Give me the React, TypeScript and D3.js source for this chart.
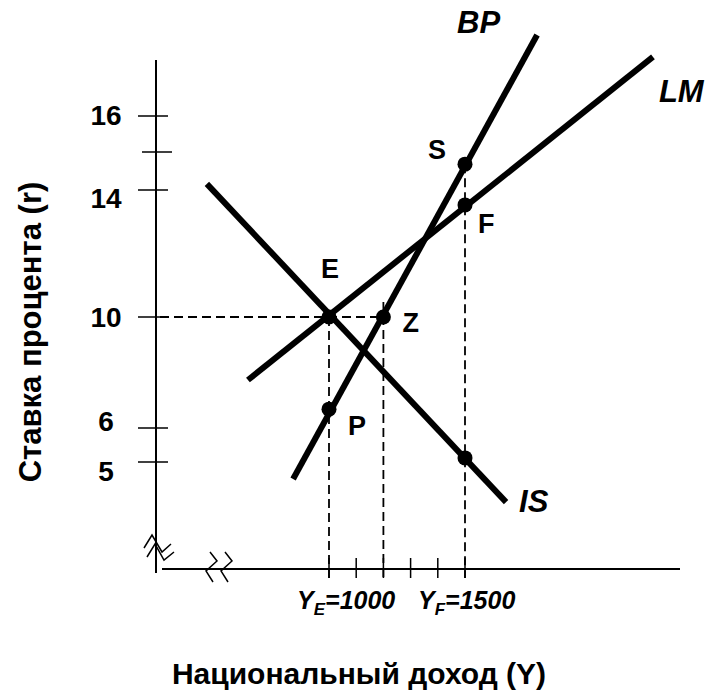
import { useEffect, useRef } from "react";
import * as d3 from "d3";

// national income ticks (Y) and interest rate ticks (r)
const xTicks = [1000, 1100, 1200, 1300, 1400, 1500];
const yTicks = [5, 6, 10, 14, 15, 16];
const yTickLabels = ["5", "6", "10", "14", "", "16"];

// curves: two end points each, [Y, r]
const isCurve: [number, number][] = [[551, 14.16], [1651, 3.82]];
const lmCurve: [number, number][] = [[702, 7.73], [2191, 17.64]];
const bpCurve: [number, number][] = [[868, 4.5], [1765, 18.25]];
const curveNames = ["IS", "LM", "BP"];

// marked points
const pointNames = ["E", "Z", "P", "S", "F", ""];
const pointY = [1000, 1200, 1000, 1500, 1500, 1500];
const pointR = [10, 10, 6.68, 14.68, 13.53, 5.12];

// x axis labels
const xLabelSub = ["E", "F"];
const xLabelValue = [1000, 1500];

const W = 720;
const H = 693;
const FONT = "'Liberation Sans', Arial, sans-serif";

export default function App() {
  const ref = useRef<SVGSVGElement | null>(null);

  useEffect(() => {
    const svg = d3.select(ref.current);
    svg.selectAll("*").remove();

    const x = d3.scaleLinear().domain([1000, 1500]).range([329, 465]);
    // schematic axis: uneven spacing between ticks
    const y = d3
      .scaleLinear()
      .domain([5, 6, 10, 14, 15, 16])
      .range([462, 428, 317, 190, 152, 116]);

    const axisX = 156; // vertical axis position
    const axisY = 569; // horizontal axis position

    const g = svg.append("g");

    // axes
    g.append("line")
      .attr("x1", axisX).attr("x2", axisX)
      .attr("y1", 60).attr("y2", 573)
      .attr("stroke", "#000").attr("stroke-width", 2);
    g.append("line")
      .attr("x1", 162).attr("x2", 680)
      .attr("y1", axisY).attr("y2", axisY)
      .attr("stroke", "#000").attr("stroke-width", 2);

    // y ticks
    yTicks.forEach((v) => {
      const off = v === 15 ? 2 : -2;
      g.append("line")
        .attr("x1", axisX - 16 + off).attr("x2", axisX + 14 + off)
        .attr("y1", y(v)).attr("y2", y(v))
        .attr("stroke", "#000").attr("stroke-width", 1.5);
    });
    const yLabelDy: Record<string, number> = { "5": 19, "6": 3, "10": 10, "14": 18, "16": 9 };
    yTicks.forEach((v, i) => {
      if (!yTickLabels[i]) return;
      g.append("text")
        .attr("x", 106)
        .attr("y", y(v) + yLabelDy[yTickLabels[i]])
        .attr("text-anchor", "middle")
        .attr("font-family", FONT)
        .attr("font-weight", "bold")
        .attr("font-size", 28)
        .text(yTickLabels[i]);
    });

    // x ticks
    xTicks.forEach((v) => {
      g.append("line")
        .attr("x1", x(v)).attr("x2", x(v))
        .attr("y1", axisY - 11).attr("y2", axisY + 9)
        .attr("stroke", "#000").attr("stroke-width", 1.5);
    });

    // axis break marks
    const brk = d3.line();
    g.append("path")
      .attr("d", brk([[144, 548], [152, 535], [162, 552], [171, 544]]))
      .attr("fill", "none").attr("stroke", "#000").attr("stroke-width", 1.5);
    g.append("path")
      .attr("d", brk([[147, 557], [155, 544], [164, 560], [174, 552]]))
      .attr("fill", "none").attr("stroke", "#000").attr("stroke-width", 1.5);
    [0, 15].forEach((dx) => {
      g.append("path")
        .attr("d", brk([[210 + dx, 552], [217 + dx, 561], [206 + dx, 571], [213 + dx, 582]]))
        .attr("fill", "none").attr("stroke", "#000").attr("stroke-width", 1.5);
    });

    // dashed guides
    const dash = (x1: number, y1: number, x2: number, y2: number) =>
      g.append("line")
        .attr("x1", x1).attr("y1", y1).attr("x2", x2).attr("y2", y2)
        .attr("stroke", "#000").attr("stroke-width", 1.8)
        .attr("stroke-dasharray", "9,5");
    dash(axisX + 4, y(10), x(1200), y(10));
    dash(x(1000), y(10), x(1000), axisY + 9);
    dash(x(1200), y(10.47), x(1200), axisY + 9);
    dash(x(1500), y(14.68), x(1500), axisY + 9);

    // curves
    const line = d3
      .line<[number, number]>()
      .x((d) => x(d[0]))
      .y((d) => y(d[1]));
    const curves = [isCurve, lmCurve, bpCurve];
    curves.forEach((c) => {
      g.append("path")
        .attr("d", line(c))
        .attr("fill", "none")
        .attr("stroke", "#000")
        .attr("stroke-width", 6);
    });

    // curve labels, relative to the curve's end point
    const curveLabelPos = [
      { dx: 13, dy: 10 },
      { dx: 6, dy: 45 },
      { dx: -80, dy: -2 },
    ];
    curves.forEach((c, i) => {
      const p = c[1];
      g.append("text")
        .attr("x", x(p[0]) + curveLabelPos[i].dx)
        .attr("y", y(p[1]) + curveLabelPos[i].dy)
        .attr("font-family", FONT)
        .attr("font-weight", "bold")
        .attr("font-style", "italic")
        .attr("font-size", 31)
        .text(curveNames[i]);
    });

    // points
    pointY.forEach((v, i) => {
      g.append("circle")
        .attr("cx", x(v))
        .attr("cy", y(pointR[i]))
        .attr("r", 7.5)
        .attr("fill", "#000");
    });
    const pointLabelPos: Record<string, [number, number]> = {
      E: [-8, -39],
      Z: [19, 15],
      P: [19, 26],
      S: [-37, -5],
      F: [13, 28],
    };
    pointY.forEach((v, i) => {
      const name = pointNames[i];
      if (!name) return;
      g.append("text")
        .attr("x", x(v) + pointLabelPos[name][0])
        .attr("y", y(pointR[i]) + pointLabelPos[name][1])
        .attr("font-family", FONT)
        .attr("font-weight", "bold")
        .attr("font-size", 27)
        .text(name);
    });

    // x axis value labels
    xLabelValue.forEach((v, i) => {
      const t = g.append("text")
        .attr("x", x(v) - (i === 0 ? 32 : 47))
        .attr("y", 609)
        .attr("font-family", FONT)
        .attr("font-weight", "bold")
        .attr("font-style", "italic")
        .attr("font-size", 25);
      t.append("tspan").text("Y");
      t.append("tspan").attr("font-size", 17).attr("dy", 6).text(xLabelSub[i]);
      t.append("tspan").attr("dy", -6).text("=" + v);
    });

    // axis titles
    g.append("text")
      .attr("x", 359)
      .attr("y", 684)
      .attr("text-anchor", "middle")
      .attr("font-family", FONT)
      .attr("font-weight", "bold")
      .attr("font-size", 30)
      .text("Национальный доход (Y)");
    g.append("text")
      .attr("transform", "translate(41,332) rotate(-90)")
      .attr("text-anchor", "middle")
      .attr("font-family", FONT)
      .attr("font-weight", "bold")
      .attr("font-size", 31)
      .text("Ставка процента (r)");
  }, []);

  return (
    <svg
      ref={ref}
      width={W}
      height={H}
      style={{ position: "absolute", left: 0, top: 0, background: "#fff" }}
    />
  );
}
